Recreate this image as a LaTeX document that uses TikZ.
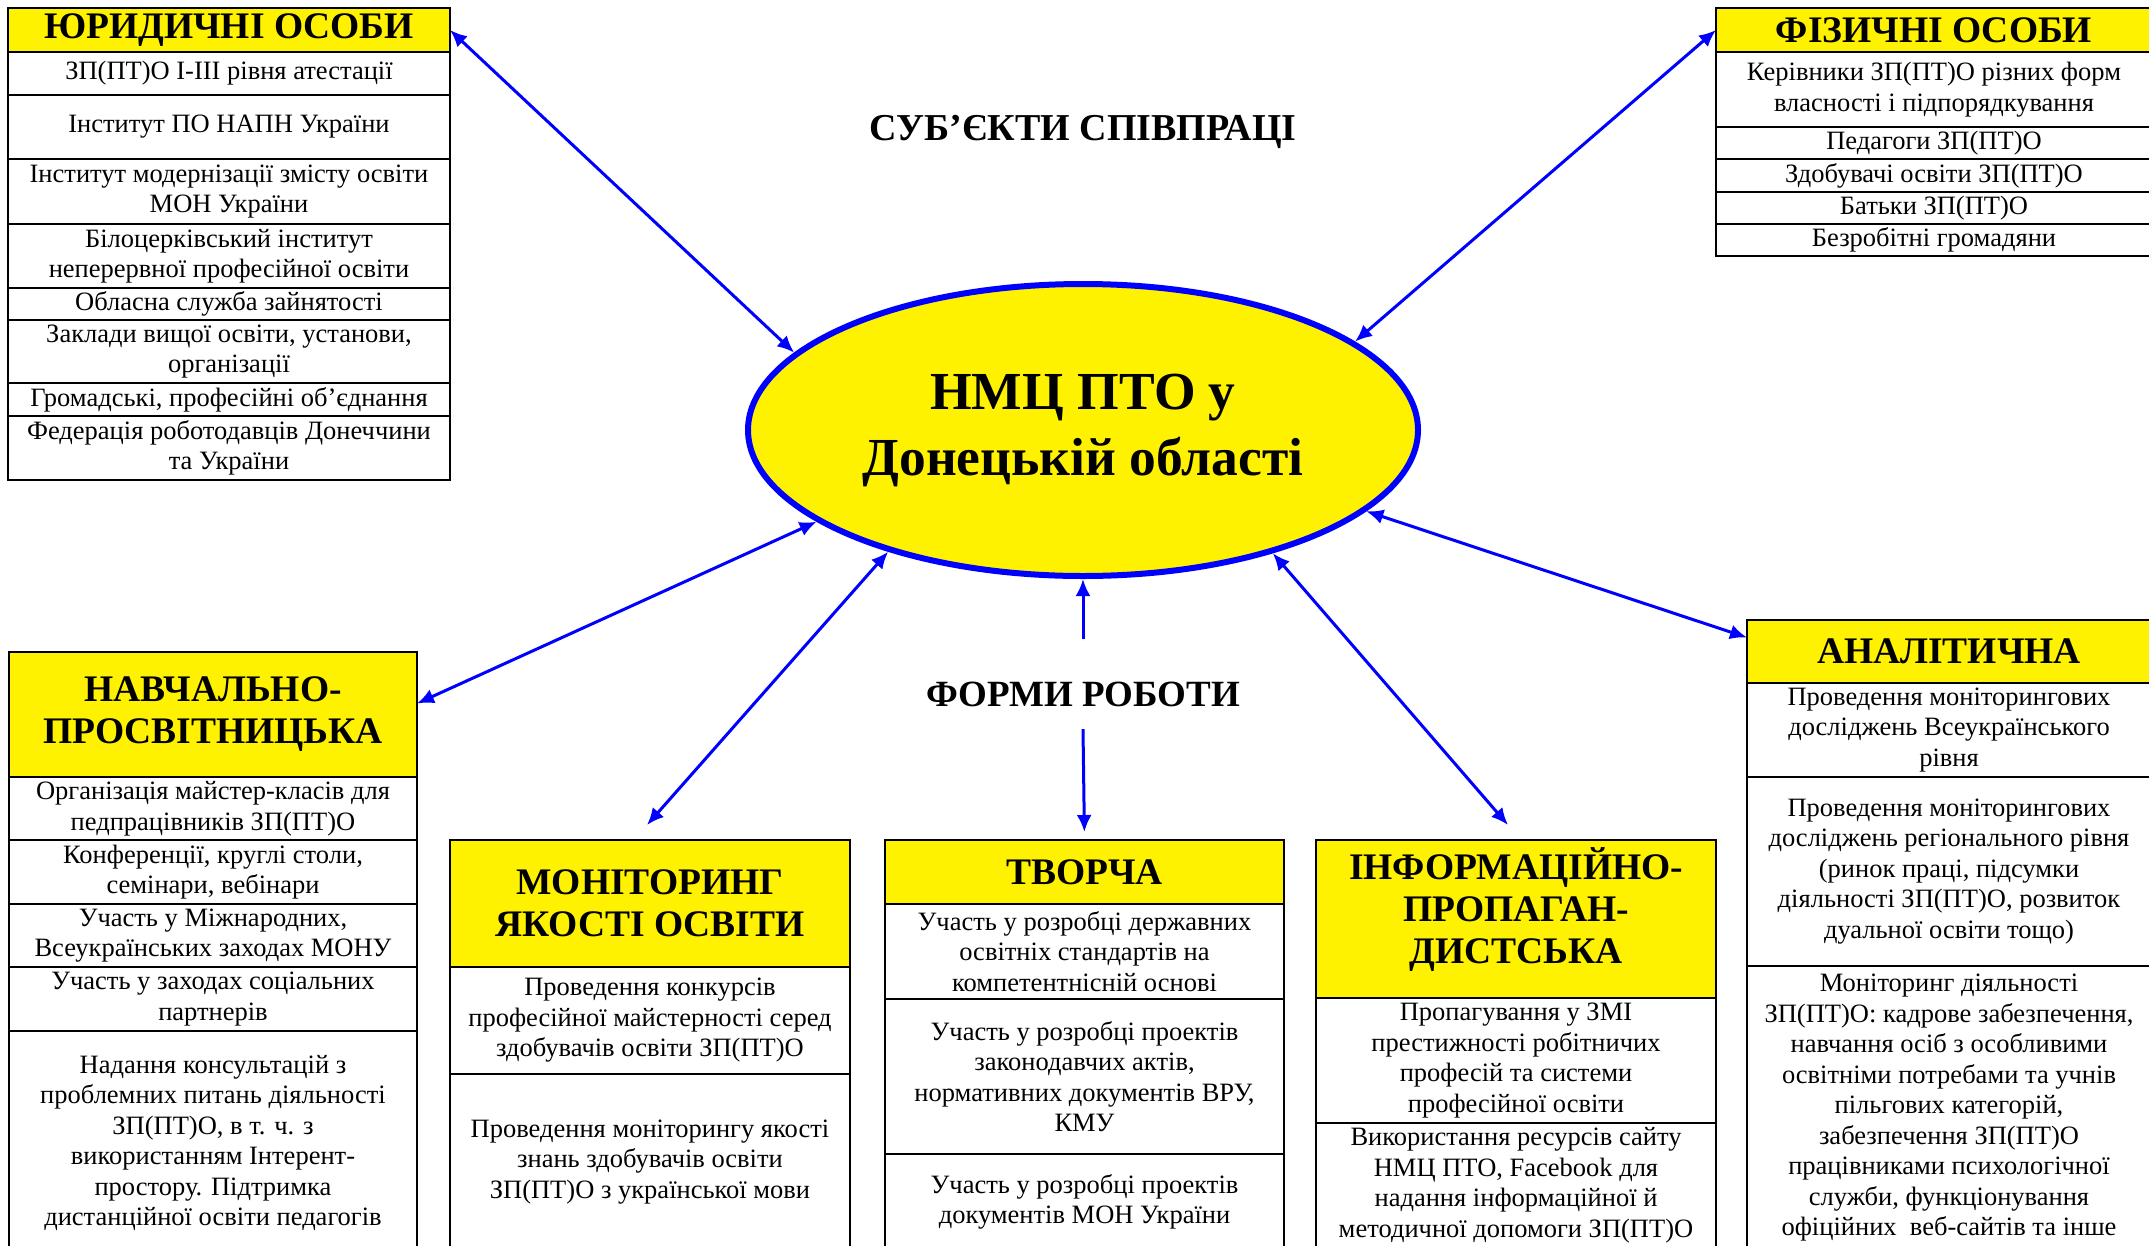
\documentclass[tikz,border=0pt]{standalone}
\usepackage{fontspec}
\setmainfont{Liberation Serif}
\usetikzlibrary{shapes.geometric,arrows.meta}

\newcommand{\cellfont}{\fontsize{26.5}{30.5}\selectfont}
\newcommand{\capfont}{\fontsize{37.5}{42}\selectfont\bfseries}

\begin{document}
\begin{tikzpicture}[x=1pt, y=-1pt,
    cell/.style={draw, line width=2.5pt, fill=white, anchor=north west, align=center,
      inner sep=0pt, outer sep=0pt, font=\cellfont},
    head/.style={cell, fill=yellow, font=\capfont},
    link/.style={blue, line width=3pt, {Latex[length=17pt,width=15pt]}-{Latex[length=17pt,width=15pt]}},
    oneway/.style={blue, line width=3pt, -{Latex[length=17pt,width=15pt]}}]
    \useasboundingbox (0,0) rectangle (2149,1245);
    \clip (0,0) rectangle (2149,1245);

    % Centre
    \node[ellipse, draw=blue, line width=6pt, fill=yellow, minimum width=670pt, minimum height=292pt,
      inner sep=0pt, align=center, font=\fontsize{53.5}{66}\selectfont\bfseries] (nmc) at (1083,430)
      {НМЦ ПТО у\\Донецькій області};
    \node[font=\fontsize{38}{42}\selectfont\bfseries] (subj) at (1083,132) {СУБ’ЄКТИ СПІВПРАЦІ};
    \node[font=\fontsize{37}{42}\selectfont\bfseries, inner sep=0pt, text height=67.5pt, text depth=22.5pt]
      (forms) at (1083,684) {ФОРМИ РОБОТИ};

    % Legal persons
    \node[head, minimum width=442pt, minimum height=44pt] (leghead) at (8,8) {ЮРИДИЧНІ ОСОБИ};
    \node[cell, minimum width=442pt, minimum height=43pt] (leg1) at (8,52) {ЗП(ПТ)О I-III рівня атестації};
    \node[cell, minimum width=442pt, minimum height=64pt] (leg2) at (8,95) {Інститут ПО НАПН України};
    \node[cell, minimum width=442pt, minimum height=65pt] (leg3) at (8,159) {Інститут модернізації змісту освіти\\МОН України};
    \node[cell, minimum width=442pt, minimum height=64pt] (leg4) at (8,224) {Білоцерківський інститут\\неперервної професійної освіти};
    \node[cell, minimum width=442pt, minimum height=32pt] (leg5) at (8,288) {Обласна служба зайнятості};
    \node[cell, minimum width=442pt, minimum height=63pt] (leg6) at (8,320) {Заклади вищої освіти, установи,\\організації};
    \node[cell, minimum width=442pt, minimum height=33pt] (leg7) at (8,383) {Громадські, професійні об’єднання};
    \node[cell, minimum width=442pt, minimum height=64pt] (leg8) at (8,416) {Федерація роботодавців Донеччини\\та України};

    % Natural persons
    \node[head, minimum width=436pt, minimum height=44pt] (fizhead) at (1716,8) {ФІЗИЧНІ ОСОБИ};
    \node[cell, minimum width=436pt, minimum height=75pt] (fiz1) at (1716,52) {Керівники ЗП(ПТ)О різних форм\\власності і підпорядкування};
    \node[cell, minimum width=436pt, minimum height=32pt] (fiz2) at (1716,127) {Педагоги ЗП(ПТ)О};
    \node[cell, minimum width=436pt, minimum height=33pt] (fiz3) at (1716,159) {Здобувачі освіти ЗП(ПТ)О};
    \node[cell, minimum width=436pt, minimum height=32pt] (fiz4) at (1716,192) {Батьки ЗП(ПТ)О};
    \node[cell, minimum width=436pt, minimum height=32pt] (fiz5) at (1716,224) {Безробітні громадяни};

    % Forms of work
    \node[head, minimum width=408pt, minimum height=125pt] (navhead) at (9,652) {НАВЧАЛЬНО-\\ПРОСВІТНИЦЬКА};
    \node[cell, minimum width=408pt, minimum height=63pt] (nav1) at (9,777) {Організація майстер-класів для\\педпрацівників ЗП(ПТ)О};
    \node[cell, minimum width=408pt, minimum height=64pt] (nav2) at (9,840) {Конференції, круглі столи,\\семінари, вебінари};
    \node[cell, minimum width=408pt, minimum height=63pt] (nav3) at (9,904) {Участь у Міжнародних,\\Всеукраїнських заходах МОНУ};
    \node[cell, minimum width=408pt, minimum height=64pt] (nav4) at (9,967) {Участь у заходах соціальних\\партнерів};
    \node[cell, minimum width=408pt, minimum height=224pt] (nav5) at (9,1031) {Надання консультацій з\\проблемних питань діяльності\\ЗП(ПТ)О, в т. ч. з\\використанням Інтерент-\\простору. Підтримка\\дистанційної освіти педагогів};

    \node[head, minimum width=400pt, minimum height=127pt] (monhead) at (450,840) {МОНІТОРИНГ\\ЯКОСТІ ОСВІТИ};
    \node[cell, minimum width=400pt, minimum height=107pt] (mon1) at (450,967) {Проведення конкурсів\\професійної майстерності серед\\здобувачів освіти ЗП(ПТ)О};
    \node[cell, minimum width=400pt, minimum height=176pt] (mon2) at (450,1074) {Проведення моніторингу якості\\знань здобувачів освіти\\ЗП(ПТ)О з української мови};

    \node[head, minimum width=399pt, minimum height=64pt] (tvhead) at (885,840) {ТВОРЧА};
    \node[cell, minimum width=399pt, minimum height=95pt] (tv1) at (885,904) {Участь у розробці державних\\освітніх стандартів на\\компетентнісній основі};
    \node[cell, minimum width=399pt, minimum height=155pt] (tv2) at (885,999) {Участь у розробці проектів\\законодавчих актів,\\нормативних документів ВРУ,\\КМУ};
    \node[cell, minimum width=399pt, minimum height=96pt] (tv3) at (885,1154) {Участь у розробці проектів\\документів МОН України};

    \node[head, minimum width=400pt, minimum height=158pt] (infhead) at (1316,840) {ІНФОРМАЦІЙНО-\\ПРОПАГАН-\\ДИСТСЬКА\\[-16pt]\mbox{}};
    \node[cell, minimum width=400pt, minimum height=125pt] (inf1) at (1316,998) {Пропагування у ЗМІ\\престижності робітничих\\професій та системи\\професійної освіти};
    \node[cell, minimum width=400pt, minimum height=124pt] (inf2) at (1316,1123) {Використання ресурсів сайту\\НМЦ ПТО, Facebook для\\надання інформаційної й\\методичної допомоги ЗП(ПТ)О};

    \node[head, minimum width=404pt, minimum height=63pt] (anhead) at (1747,620) {АНАЛІТИЧНА};
    \node[cell, minimum width=404pt, minimum height=94pt] (an1) at (1747,683) {Проведення моніторингових\\досліджень Всеукраїнського\\рівня};
    \node[cell, minimum width=404pt, minimum height=189pt] (an2) at (1747,777) {Проведення моніторингових\\досліджень регіонального рівня\\(ринок праці, підсумки\\діяльності ЗП(ПТ)О, розвиток\\дуальної освіти тощо)};
    \node[cell, minimum width=404pt, minimum height=284pt] (an3) at (1747,966) {Моніторинг діяльності\\ЗП(ПТ)О: кадрове забезпечення,\\навчання осіб з особливими\\освітніми потребами та учнів\\пільгових категорій,\\забезпечення ЗП(ПТ)О\\працівниками психологічної\\служби, функціонування\\офіційних~ веб-сайтів та інше};

    % Arrows
    \draw[link] (leghead.east) -- (nmc.165);
    \draw[link] (fizhead.west) -- (nmc.18);
    \draw[link] ([yshift=11pt]navhead.east) -- (nmc.199);
    \draw[link] ([yshift=15pt,xshift=-3pt]monhead.north) -- (nmc.212);
    \draw[oneway] (forms.north) -- (nmc.south);
    \draw[oneway, shorten >=8pt] (forms.south) -- (tvhead.north);
    \draw[link] ([yshift=15pt,xshift=-8pt]infhead.north) -- (nmc.327);
    \draw[link] ([yshift=14pt]anhead.west) -- (nmc.344);
\end{tikzpicture}
\end{document}
